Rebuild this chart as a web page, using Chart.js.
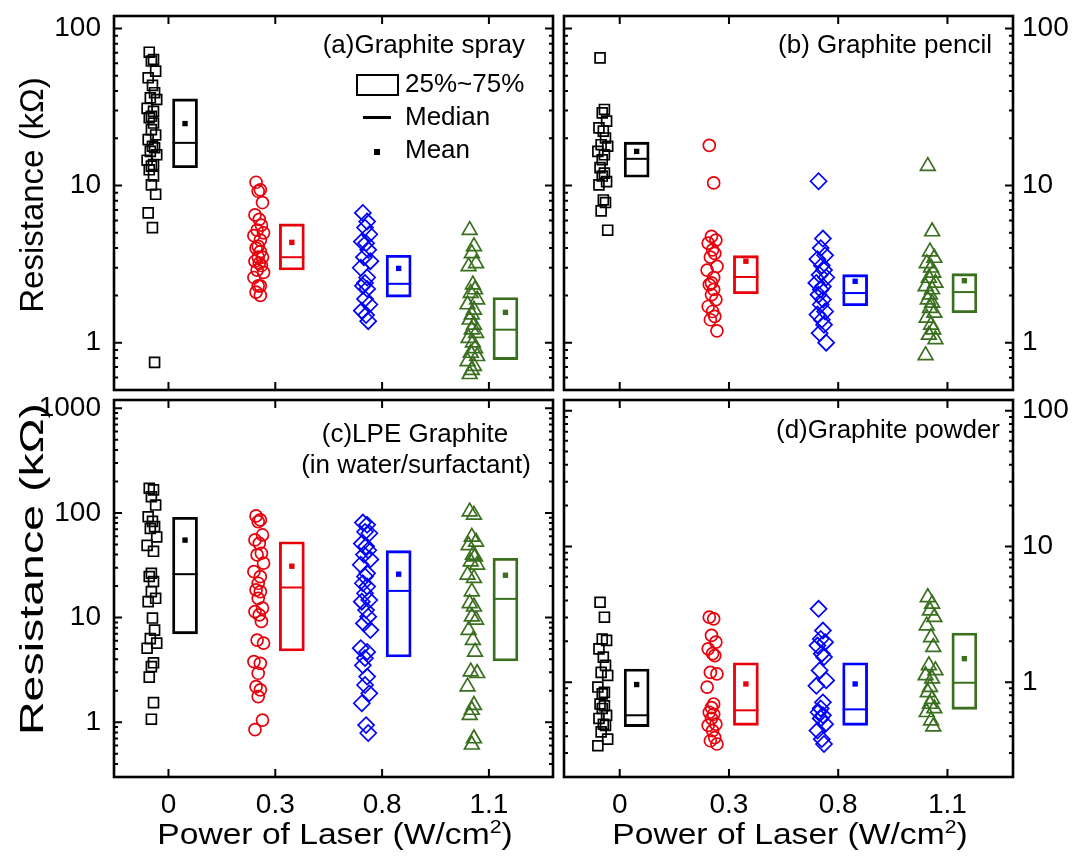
<!DOCTYPE html>
<html>
<head>
<meta charset="utf-8">
<script src="https://cdn.jsdelivr.net/npm/chart.js@4.4.0/dist/chart.umd.min.js"></script>
<style>
body { margin:0; background:#fff; width:1076px; height:857px; position:relative; overflow:hidden;
       font-family:"Liberation Sans", Arial, sans-serif; }
.pane { position:absolute; }
.txt { position:absolute; color:#000; white-space:nowrap; line-height:1; }
.ann { font-size:26px; }
</style>
</head>
<body>
<div class="pane" style="left:0;top:0;width:558px;height:395px"><canvas id="ca"></canvas></div>
<div class="pane" style="left:558px;top:0;width:518px;height:395px"><canvas id="cb"></canvas></div>
<div class="pane" style="left:0;top:395px;width:558px;height:462px"><canvas id="cc"></canvas></div>
<div class="pane" style="left:558px;top:395px;width:518px;height:462px"><canvas id="cd"></canvas></div>

<!-- axis titles -->
<div class="txt" style="font-size:33px;left:31px;top:195px;transform:translate(-50%,-50%) rotate(-90deg)">Resistance (kΩ)</div>
<div class="txt" style="font-size:33px;left:31px;top:569px;transform:translate(-50%,-50%) rotate(-90deg) scaleX(1.41)">Resistance (kΩ)</div>
<div class="txt" style="font-size:30px;left:335px;top:817px;transform:translateX(-50%) scaleX(1.12)">Power of Laser (W/cm<sup style="font-size:19px">2</sup>)</div>
<div class="txt" style="font-size:30px;left:790px;top:817px;transform:translateX(-50%) scaleX(1.12)">Power of Laser (W/cm<sup style="font-size:19px">2</sup>)</div>

<!-- panel notes -->
<div class="txt ann" style="right:551px;top:31px">(a)Graphite spray</div>
<div class="txt ann" style="right:84px;top:31px">(b) Graphite pencil</div>
<div class="txt ann" style="left:415px;top:420px;transform:translateX(-50%)">(c)LPE Graphite</div>
<div class="txt ann" style="left:416px;top:451px;transform:translateX(-50%)">(in water/surfactant)</div>
<div class="txt ann" style="right:76px;top:416px">(d)Graphite powder</div>

<!-- legend in (a) -->
<div style="position:absolute;left:356px;top:74px;width:39px;height:18px;border:2.5px solid #000"></div>
<div class="txt ann" style="left:405px;top:70px">25%~75%</div>
<div style="position:absolute;left:363px;top:116px;width:28px;height:2.5px;background:#000"></div>
<div class="txt ann" style="left:405px;top:103px">Median</div>
<div style="position:absolute;left:374px;top:149px;width:6px;height:6px;background:#000"></div>
<div class="txt ann" style="left:405px;top:136px">Mean</div>

<script>
// x categories (laser power, W/cm2)
const powerLabels = ['0', '0.3', '0.8', '1.1'];

// (a) graphite spray, resistance in kOhm
const sprayP0 = [70.6, 63.5, 62, 53.5, 48.5, 43.4, 39, 36.2, 35.3, 31, 29.7, 27.6, 27, 25, 22.7, 21, 19.6, 17.8, 17.4, 16.5, 15.7, 14.5, 13.6, 13.3, 12.6, 11.5, 10.1, 8.8, 6.7, 5.4, 0.75];
const sprayP1 = [10.5, 9.4, 9.2, 7.8, 6.5, 6.1, 5.6, 5.2, 5.0, 4.8, 4.5, 4.1, 4.0, 3.8, 3.5, 3.5, 3.3, 3.2, 3.1, 2.9, 2.8, 2.6, 2.3, 2.3, 2.1, 2.0];
const sprayP2 = [6.7, 5.9, 5.4, 4.9, 4.4, 4.3, 3.9, 3.5, 3.3, 3.0, 2.6, 2.4, 2.3, 2.2, 1.9, 1.75, 1.6, 1.5, 1.37];
const sprayP3 = [5.2, 4.1, 3.7, 3.2, 3.06, 2.34, 2.18, 2.07, 1.88, 1.75, 1.62, 1.51, 1.40, 1.30, 1.21, 1.15, 1.07, 1.0, 0.92, 0.86, 0.82, 0.76, 0.71, 0.67, 0.63];
const sprayQ1 = [13, 2.9, 1.95, 0.78];
const sprayQ3 = [35.6, 5.7, 3.6, 1.94];
const sprayMedian = [18.7, 3.5, 2.37, 1.21];
const sprayMean = [24.8, 4.35, 2.97, 1.56];

// (b) graphite pencil
const pencilP0 = [65, 30.5, 29, 25.7, 23.3, 22.2, 20.1, 18.2, 17.8, 16.5, 15.7, 14.6, 13, 12, 11.5, 10.6, 10.1, 8.1, 7.8, 6.9, 5.2];
const pencilP1 = [18, 10.4, 4.75, 4.5, 4.3, 3.9, 3.7, 3.5, 3.06, 2.9, 2.6, 2.4, 2.34, 2.18, 2.02, 1.88, 1.7, 1.58, 1.47, 1.4, 1.19];
const pencilP2 = [10.65, 4.6, 4.0, 3.6, 3.4, 3.1, 2.9, 2.7, 2.6, 2.4, 2.28, 2.18, 2.02, 1.88, 1.75, 1.58, 1.51, 1.4, 1.3, 1.15, 1.0];
const pencilP3 = [13.3, 5.1, 3.8, 3.46, 3.2, 3.0, 2.78, 2.58, 2.4, 2.28, 2.18, 2.02, 1.88, 1.79, 1.66, 1.55, 1.44, 1.3, 1.21, 1.12, 1.05, 0.83];
const pencilQ1 = [11.3, 2.05, 1.72, 1.55];
const pencilQ3 = [18.9, 3.58, 2.71, 2.75];
const pencilMedian = [14.8, 2.62, 2.07, 2.1];
const pencilMean = [16.5, 3.3, 2.46, 2.48];

// (c) LPE graphite
const lpeP0 = [172, 166, 143, 119, 92, 83, 74, 71, 59, 49, 43, 26.5, 24.7, 22.1, 17.7, 15.3, 14.2, 9.9, 7.6, 6.3, 5.7, 5.1, 3.7, 3.4, 2.7, 1.54, 1.07];
const lpeP1 = [93.6, 85.7, 82.7, 61.6, 55.3, 51.3, 41.2, 39.7, 33.1, 27.5, 24.6, 21.3, 18.4, 17.7, 15.3, 12.3, 11.4, 10.6, 9.2, 6.1, 5.7, 3.8, 3.66, 2.94, 2.19, 2.04, 1.76, 1.05, 0.85];
const lpeP2 = [81, 77, 66, 64, 51, 48, 44, 40, 36, 32, 26.5, 24.7, 21.3, 19.8, 17.1, 14.7, 14.2, 11.8, 10.2, 8.8, 7.6, 5.1, 4.7, 4.1, 3.5, 2.73, 2.27, 1.89, 1.52, 0.94, 0.79];
const lpeP3 = [103, 95.7, 59, 53, 49, 39.7, 38.3, 34.3, 31.9, 25.6, 23.8, 17.7, 13.7, 12.7, 10.2, 9.5, 7.6, 6.1, 4.7, 3.05, 2.94, 2.19, 1.46, 1.31, 1.17, 0.70, 0.61];
const lpeQ1 = [7.0, 4.8, 4.2, 3.85];
const lpeQ3 = [91, 53, 43.6, 36.9];
const lpeMedian = [26, 19.4, 18, 15.1];
const lpeMean = [55, 31, 26, 25.4];

// (d) graphite powder
const powderP0 = [3.88, 3.01, 2.08, 2.03, 1.76, 1.53, 1.33, 1.18, 1.12, 0.92, 0.84, 0.82, 0.69, 0.67, 0.64, 0.57, 0.54, 0.49, 0.48, 0.43, 0.38, 0.34];
const powderP1 = [3.01, 2.93, 2.21, 1.97, 1.76, 1.62, 1.57, 1.18, 1.15, 0.92, 0.69, 0.65, 0.60, 0.58, 0.54, 0.49, 0.48, 0.44, 0.39, 0.37, 0.35];
const powderP2 = [3.47, 2.40, 2.08, 1.97, 1.86, 1.62, 1.53, 1.22, 1.03, 0.94, 0.71, 0.64, 0.60, 0.57, 0.54, 0.49, 0.44, 0.38, 0.35];
const powderP3 = [4.22, 3.77, 3.37, 3.01, 2.61, 2.14, 1.81, 1.33, 1.22, 1.12, 1.06, 0.92, 0.84, 0.75, 0.69, 0.64, 0.60, 0.52, 0.47];
const powderQ1 = [0.47, 0.48, 0.48, 0.63];
const powderQ3 = [1.25, 1.39, 1.39, 2.30];
const powderMedian = [0.57, 0.62, 0.63, 0.99];
const powderMean = [0.96, 0.97, 0.97, 1.49];

const yTicksAB = [1, 10, 100];
const yTicksC = [1, 10, 100, 1000];
const yTicksD = [1, 10, 100];

// styling
const colors = ['#000000', '#e8000b', '#0000ff', '#3a6f1f'];
const shapes = ['rect', 'circle', 'rectRot', 'triangle'];
const shapeR = [7, 6, 8, 8.5];
const jitter = [-0.02, 0.02, 0.0, 0.04, -0.03, 0.01, 0.03, -0.01, 0.05, -0.04, 0.02, 0.0];
const tickFont = { family: '"Liberation Sans", Arial, sans-serif', size: 28 };

// frame with inward ticks on all four sides
const frameTicks = {
  id: 'frameTicks',
  afterDraw(chart) {
    const ctx = chart.ctx, a = chart.chartArea, x = chart.scales.x, y = chart.scales.y;
    ctx.save();
    ctx.strokeStyle = '#000';
    ctx.lineWidth = 2;
    ctx.beginPath();
    powerLabels.forEach(function (lab, i) {
      const px = x.getPixelForValue(i);
      ctx.moveTo(px, a.bottom); ctx.lineTo(px, a.bottom - 8);
      ctx.moveTo(px, a.top); ctx.lineTo(px, a.top + 8);
    });
    const d0 = Math.floor(Math.log10(y.min)), d1 = Math.ceil(Math.log10(y.max));
    for (let d = d0; d <= d1; d++) {
      for (let m = 1; m <= 9; m++) {
        const v = m * Math.pow(10, d);
        if (v < y.min || v > y.max) continue;
        const py = y.getPixelForValue(v);
        const len = m === 1 ? 8 : 4;
        ctx.moveTo(a.left, py); ctx.lineTo(a.left + len, py);
        ctx.moveTo(a.right, py); ctx.lineTo(a.right - len, py);
      }
    }
    ctx.stroke();
    ctx.lineWidth = 2.6;
    ctx.strokeRect(a.left, a.top, a.right - a.left, a.bottom - a.top);
    ctx.restore();
  }
};

function noPad(s) {
  s.paddingTop = 0; s.paddingBottom = 0; s.paddingLeft = 0; s.paddingRight = 0;
}

function makePanel(id, groups, q1, q3, med, mean, cfg) {
  const datasets = [];
  groups.forEach(function (vals, g) {
    datasets.push({
      type: 'scatter',
      data: vals.map(function (v, i) { return { x: g - 0.16 + jitter[i % jitter.length], y: v }; }),
      pointStyle: shapes[g],
      pointRadius: shapeR[g],
      pointBorderColor: colors[g],
      pointBackgroundColor: 'rgba(0,0,0,0)',
      pointBorderWidth: 1.7
    });
  });
  datasets.push({
    type: 'bar',
    data: q1.map(function (v, i) { return { x: i + 0.155, y: [v, q3[i]] }; }),
    borderColor: colors,
    backgroundColor: 'rgba(0,0,0,0)',
    borderWidth: 2.2,
    borderSkipped: false,
    barThickness: 25,
    grouped: false
  });
  datasets.push({
    type: 'scatter',
    data: med.map(function (v, i) { return { x: i + 0.155, y: v }; }),
    pointStyle: 'line',
    pointRadius: 12.5,
    pointBorderColor: colors,
    pointBorderWidth: 2
  });
  datasets.push({
    type: 'scatter',
    data: mean.map(function (v, i) { return { x: i + 0.155, y: v }; }),
    pointStyle: 'rect',
    pointRadius: 3.8,
    pointBackgroundColor: colors,
    pointBorderColor: colors,
    pointBorderWidth: 0
  });

  new Chart(document.getElementById(id), {
    type: 'scatter',
    data: { datasets: datasets },
    options: {
      responsive: true,
      maintainAspectRatio: false,
      animation: false,
      events: [],
      layout: { padding: cfg.padding, autoPadding: false },
      plugins: { legend: { display: false }, tooltip: { enabled: false } },
      scales: {
        x: {
          type: 'linear', min: -0.51, max: 3.6, offset: false, display: cfg.showX,
          grid: { display: false, drawTicks: false, offset: false }, border: { display: false },
          ticks: { font: tickFont, color: '#000', padding: 11, autoSkip: false, maxRotation: 0,
                   callback: function (v) { return powerLabels[Math.round(v)]; } },
          afterBuildTicks: function (s) { s.ticks = powerLabels.map(function (l, i) { return { value: i }; }); },
          afterFit: function (s) { s.height = cfg.showX ? 80 : 0; noPad(s); }
        },
        y: {
          type: 'logarithmic', position: cfg.side, min: cfg.yMin, max: cfg.yMax,
          grid: { display: false, drawTicks: false }, border: { display: false },
          ticks: { font: tickFont, color: '#000', padding: cfg.side === 'left' ? 13 : 9, autoSkip: false,
                   callback: function (v) { return String(v); } },
          afterBuildTicks: function (s) { s.ticks = cfg.yTicks.map(function (v) { return { value: v }; }); },
          afterFit: function (s) { s.width = cfg.yWidth; noPad(s); }
        }
      }
    },
    plugins: [frameTicks]
  });
}

makePanel('ca', [sprayP0, sprayP1, sprayP2, sprayP3], sprayQ1, sprayQ3, sprayMedian, sprayMean,
  { padding: { left: 0, top: 16, right: 5, bottom: 5 }, showX: false, side: 'left', yMin: 0.5, yMax: 120, yTicks: yTicksAB, yWidth: 114 });
makePanel('cb', [pencilP0, pencilP1, pencilP2, pencilP3], pencilQ1, pencilQ3, pencilMedian, pencilMean,
  { padding: { left: 6, top: 16, right: 0, bottom: 5 }, showX: false, side: 'right', yMin: 0.5, yMax: 120, yTicks: yTicksAB, yWidth: 63 });
makePanel('cc', [lpeP0, lpeP1, lpeP2, lpeP3], lpeQ1, lpeQ3, lpeMedian, lpeMean,
  { padding: { left: 0, top: 5, right: 5, bottom: 0 }, showX: true, side: 'left', yMin: 0.3, yMax: 1200, yTicks: yTicksC, yWidth: 114 });
makePanel('cd', [powderP0, powderP1, powderP2, powderP3], powderQ1, powderQ3, powderMedian, powderMean,
  { padding: { left: 6, top: 5, right: 0, bottom: 0 }, showX: true, side: 'right', yMin: 0.2, yMax: 120, yTicks: yTicksD, yWidth: 63 });
</script>
</body>
</html>
